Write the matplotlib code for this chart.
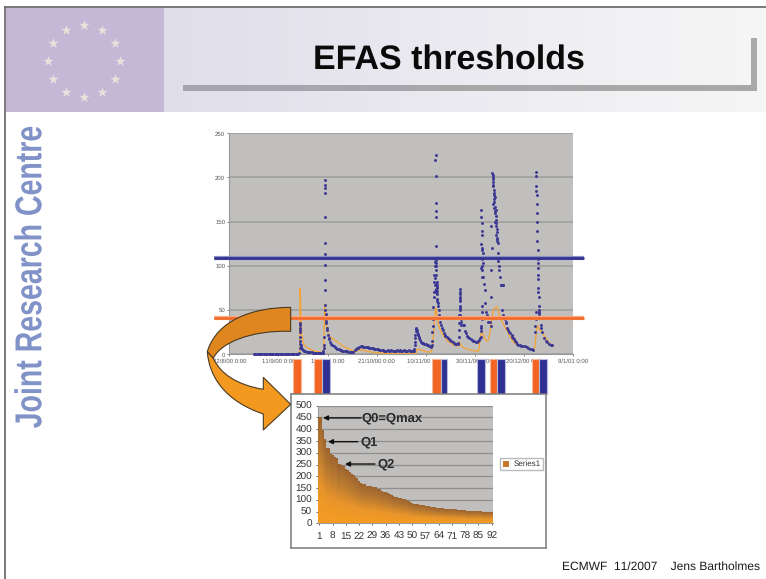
import numpy as np
import matplotlib
matplotlib.use("Agg")
import matplotlib.pyplot as plt
from matplotlib.patches import PathPatch, Rectangle
from matplotlib.path import Path
from matplotlib.colors import LinearSegmentedColormap
from matplotlib.transforms import blended_transform_factory, Affine2D
from matplotlib.patheffects import AbstractPathEffect

W, H = 766, 579

# ---------- main chart data (days since 22/8/00, discharge) ----------
date_ticks = [0, 20, 40, 60, 80, 100, 120, 140]
date_labels = ["22/8/00 0:00", "11/9/00 0:00", "1/10/00 0:00", "21/10/00 0:00",
               "10/11/00 0:00", "30/11/00 0:00", "20/12/00 0:00", "9/1/01 0:00"]
q_ticks = [0, 50, 100, 150, 200, 250]

base_days = [10, 10.5, 11, 11.5, 12, 12.5, 13, 13.5, 14, 14.5, 15, 15.5, 16, 16.5, 17, 17.5, 18, 18.5, 19, 19.5,
             20, 20.5, 21, 21.5, 22, 22.5, 23, 23.5, 24, 24.5, 25, 25.5, 26, 26.5, 27, 27.5, 28, 28.4]
base_vals = [0.6, 0.5, 0.6, 0.5, 0.5, 0.6, 0.5, 0.5, 0.6, 0.7, 0.5, 0.6, 0.5, 0.7, 0.6, 0.5, 0.6, 0.5, 0.7, 0.6,
             0.6, 0.7, 0.6, 0.6, 0.7, 0.8, 0.7, 0.6, 0.7, 0.8, 0.7, 0.8, 0.7, 0.8, 0.9, 0.8, 0.9, 1.0]

e1_days = [28.7, 28.8, 28.8, 28.8, 28.9, 28.9, 28.9, 29.0, 29.0, 29.1, 29.2, 29.5, 30, 30.5, 31, 31.5, 32, 32.5, 33, 33.5,
           34, 34.5, 35, 35.5, 36, 36.5, 37, 37.5, 38, 38.2, 38.3, 38.4, 38.5]
e1_vals = [7, 35, 33, 30, 28, 25, 20, 15, 12, 10, 8, 6, 5, 4, 3.5, 3, 2.8, 2.6, 2.4, 2.2,
           2, 1.9, 1.8, 1.7, 1.6, 1.6, 1.5, 1.5, 1.5, 2, 4, 7, 10]

e2_days = [38.7, 38.8, 38.8, 38.8, 38.8, 38.9, 38.9, 38.9, 38.8, 38.9, 38.9, 38.9, 39.1, 39.2, 39.3, 39.4, 39.5, 39.7, 39.9,
           40.2, 40.5, 40.8, 41.2, 41.6, 42, 42.5, 43, 43.5, 44, 44.5, 45, 45.5, 46, 46.5, 47, 47.5, 48, 48.5, 49, 49.5, 50, 50.5]
e2_vals = [20, 197, 192, 188, 183, 155, 126, 114, 101, 84, 73, 56, 50, 46, 43, 38, 35, 30, 27,
           22, 19, 17, 14, 12, 10, 9, 8, 7, 6, 5.5, 5, 4.5, 4.2, 4, 3.8, 3.5, 3.3, 3.1, 3, 3, 3, 3]

mid_days = [51, 51.5, 52, 52.5, 53, 53.5, 54, 54.5, 55, 55.5, 56, 56.5, 57, 57.5, 58, 58.5, 59, 59.5, 60, 60.5, 61, 61.5,
            62, 62.5, 63, 63.5, 64, 64.5, 65, 65.5, 66, 66.5, 67, 67.5, 68, 68.5, 69, 69.5, 70, 70.5, 71, 71.5, 72, 72.5, 73, 73.5, 74, 74.5, 75]
mid_vals = [5, 6, 7, 7.5, 8, 9, 9, 8.8, 8.8, 8.5, 8, 8, 7.5, 7.5, 7, 6.8, 6.5, 6, 5.8, 5.5, 5, 5, 4.8,
            4.5, 4, 4, 3.8, 4.5, 4.2, 4, 4.5, 4.2, 4, 4, 4.2, 4.5, 4, 4.3, 4, 4.2, 4.5, 4, 4.2, 4, 4.3, 4, 3.8, 4, 4]

e3_days = [75.2, 75.4, 75.5, 75.6, 75.7, 75.8, 75.9, 76, 76.2, 76.4, 76.5, 76.7, 76.9, 77.1, 77.3, 77.6, 78, 78.5, 79, 79.5,
           80, 80.5, 81, 81.5, 82, 82.3, 82.5]
e3_vals = [4, 6, 10, 14, 18, 22, 26, 29, 30, 28, 25, 23, 22, 20, 18, 16, 14, 13, 13, 12, 12, 11, 10, 9, 8.5, 9, 11]

e4_days = [82.6, 82.7, 82.9, 83, 83.1, 83.2, 83.3, 83.4, 83.5, 83.6, 83.7, 83.8, 83.9, 84, 84, 84, 84.1, 84, 83.9, 84,
           84.1, 84.2, 84.3, 84.1, 84.2, 84.4, 84.5, 84.6, 84.7, 84.8, 84.9, 85, 85.3, 85.5, 85.7, 86, 86.3, 86.6, 87, 87.3,
           87.7, 88, 88.5, 89, 89.5, 90, 90.5, 91, 91.5, 92, 92.5, 93, 93.2, 83.6, 83.8, 84.2, 84.4, 84.6, 83.7, 84.0, 84.3, 84.7]
e4_vals = [15, 25, 32, 40, 54, 65, 70, 82, 90, 100, 104, 108, 110, 123, 155, 162, 171, 202, 220, 225,
           107, 103, 100, 90, 80, 78, 75, 72, 68, 62, 58, 55, 50, 45, 42, 37, 33, 30, 27, 24,
           22, 21, 20, 18, 17, 16, 15, 14, 13, 12, 12, 11.5, 13, 78, 86, 95, 82, 76, 72, 74, 70, 60]

e5_days = [93.4, 93.5, 93.6, 93.7, 93.8, 93.9, 93.9, 93.9, 93.9, 94, 94, 94, 94.1, 94.1, 94.2, 94.3, 94.5, 95, 95.4,
           96, 96.3, 96.8, 97.3, 97.8, 98.3, 98.8, 99.3, 99.8, 100.3, 100.8, 101.3, 101.8, 102.2, 102.4, 102.5, 102.6]
e5_vals = [20, 28, 35, 45, 52, 60, 65, 70, 74, 68, 62, 55, 50, 45, 40, 37, 33, 33, 33,
           26, 24, 21, 20, 18, 17, 16, 15, 14.5, 14, 14, 15, 16, 18, 20, 26, 30]

e6_days = [102.7, 102.8, 102.8, 102.9, 102.7, 102.7, 103.0, 103.1, 102.7, 103.0, 103.4, 102.7, 103.1, 103.1, 102.7, 103.4, 103.7, 104.1,
           104.2, 104.6, 105.0, 105.4, 106.3, 106.7, 106.6, 106.6, 106.8, 107.1, 102.8, 102.9, 103.2, 102.8, 103.0]
e6_vals = [32, 40, 48, 55, 163, 155, 148, 140, 125, 120, 115, 110, 108, 100, 98, 87, 80, 73,
           58, 48, 45, 37, 36, 32, 145, 95, 65, 120, 135, 118, 103, 88, 95]

e7_days = [107.2, 107.4, 107.5, 107.5, 107.5, 107.8, 107.6, 107.9, 108.1, 108.3, 108.5, 108.7, 108.9, 109.0, 109.3, 109.5, 109.7,
           110.0, 110.3, 110.5, 110.7, 111.0, 111.3, 111.6, 111.2, 111.5, 112.2, 112.9, 113.2, 113.9, 115, 115.6, 116.3, 117,
           117.7, 119.8, 121.2, 122.5, 123.9,
           107.3, 107.6, 107.7, 107.9, 108.0, 108.2, 108.4, 108.6, 108.8, 108.9, 109.1, 109.2, 107.9, 108.2, 108.5, 108.7, 109.4, 109.6, 109.9,
           112.6, 113.5, 114.5, 115.3, 116, 116.7, 118.5, 119, 120.5, 121.8, 123.2]
e7_vals = [205, 200, 198, 195, 190, 180, 170, 165, 160, 150, 145, 135, 128, 130, 115, 105, 110,
           95, 88, 78, 78, 78, 78, 78, 50, 45, 40, 35, 30, 25, 22, 18, 15, 12,
           10, 9, 8, 6, 5,
           203, 192, 186, 176, 172, 167, 162, 157, 152, 142, 138, 132, 183, 178, 163, 148, 126, 108, 100,
           37, 27, 24, 20, 17, 14, 10, 9, 9, 7, 6]

e8_days = [124.6, 124.7, 124.8, 124.9, 125, 125, 125.1, 125.1, 125.2, 125.2, 125.3, 125.3, 125.4, 125.5, 125.6, 125.6, 125.7,
           125.7, 125.8, 125.8, 125.9, 125.9, 126, 126, 126.1, 126.2, 126.3, 126.8, 127.1, 127.4, 128.2, 128.9, 129.6, 130.2, 130.9, 131.6]
e8_vals = [25, 32, 40, 48, 206, 202, 190, 185, 180, 170, 160, 150, 140, 128, 118, 108, 103,
           98, 90, 85, 75, 70, 65, 55, 50, 46, 48, 33, 30, 25, 18, 15, 14, 12, 11, 10]

sim_days = [28.5, 28.7, 28.8, 29, 29.2, 29.4, 29.6, 30, 30.5, 31, 32, 33, 34, 35, 36, 37, 38, 38.4, 38.6, 38.8, 39.1, 39.4, 39.8,
            40.5, 41, 42, 43, 44, 45, 46, 47, 48, 49, 50, 51, 52, 52.5, 53, 54, 56, 58, 60, 62, 64, 66, 70, 75, 76, 76.5, 78, 80, 82,
            82.5, 83, 83.5, 84, 84.2, 84.8, 85.3, 86, 87, 88, 89, 90, 91, 92, 93, 93.5, 93.8, 94, 95, 96, 97, 98, 99, 100, 101, 101.5,
            101.8, 102, 102.5, 102.9, 103.5, 104, 104.5, 105, 105.5, 106, 106.5, 107, 107.5, 108.5, 109, 109.5, 110, 111, 112, 113, 114,
            115, 116, 117, 118, 119, 120, 121, 122, 123, 124, 124.5, 124.8, 125.2, 125.5, 126, 127, 128, 129, 130, 131, 132]
sim_vals = [0.5, 0.5, 75, 65, 40, 30, 22, 14, 11, 9, 7, 5.5, 4.5, 3.5, 3, 2.5, 2.2, 3, 20, 56, 45, 35, 28,
            22, 20, 18, 16, 14, 12, 10, 8, 7, 5.5, 4.5, 3.5, 3.5, 5, 5, 5, 3.5, 2.5, 2, 1.5, 1, 0.8, 0.5, 0.5, 1, 6, 5, 3, 2.5,
            5, 15, 35, 50, 52, 40, 32, 27, 22, 18, 15, 13, 11, 10, 9, 10, 14, 12, 8, 7, 6, 5, 4.5, 4, 3.5, 3.5,
            8, 15, 22, 26, 22, 18, 16, 15, 16, 22, 32, 42, 50, 53, 54, 50, 45, 38, 32, 27, 22,
            17, 13, 11, 10, 9.5, 9, 8, 7, 6, 5.5, 8, 18, 28, 32, 30, 26, 22, 18, 14, 11, 9]

threshold_high = 108.6
threshold_low = 41.4

orange_start = [25.8, 34.3, 82.6, 106.1, 123.2]
orange_end = [29.3, 37.9, 86.2, 109.0, 126.2]
blue_start = [37.9, 86.2, 100.8, 109.0, 126.2]
blue_end = [41.1, 88.7, 104.2, 112.3, 129.4]

# ---------- inset bar chart ----------
rank_vals = [450, 447, 395, 355, 318, 315, 290, 286, 280, 275, 250, 248, 245, 240, 228, 222, 215, 208, 204, 192,
             188, 175, 170, 165, 163, 157, 155, 154, 153, 151, 149, 143, 141, 135, 130, 129, 126, 123, 118, 112,
             110, 108, 106, 104, 102, 98, 94, 92, 88, 84, 79, 78, 77, 76, 75, 74, 72, 70, 69, 68,
             66, 65, 63, 62, 61, 60, 59, 59, 58, 58, 57, 57, 56, 55, 55, 54, 53, 52, 51, 51,
             50, 49, 49, 48, 48, 47, 46, 46, 45, 45, 44, 43]
rank_ticks = [1, 8, 15, 22, 29, 36, 43, 50, 57, 64, 71, 78, 85, 92]
rank_yticks = list(range(0, 501, 50))
q_labels = ["Q0=Qmax", "Q1", "Q2"]
q_levels = [448, 347, 252]
q_tips = [3.0, 5.6, 14.6]
q_tails = [23.0, 21.3, 30.4]
q_text_x = [23.4, 23.0, 31.8]

plt.rcParams['font.family'] = ['Liberation Sans', 'DejaVu Sans']
plt.rcParams['text.hinting'] = 'no_hinting'
plt.rcParams['text.hinting_factor'] = 1
fig = plt.figure(figsize=(W / 100, H / 100), dpi=100, facecolor='white')


def px_axes(x0, y0, x1, y1, z):
    return fig.add_axes([x0 / W, 1 - y1 / H, (x1 - x0) / W, (y1 - y0) / H], zorder=z)


class Squeeze(AbstractPathEffect):
    """Condense the real text along the vertical about a centre in display space."""

    def __init__(self, sy, cy):
        super().__init__()
        self.sy, self.cy = sy, cy

    def draw_path(self, renderer, gc, tpath, affine, rgbFace=None):
        a = affine + Affine2D().translate(0, -self.cy).scale(1, self.sy).translate(0, self.cy)
        renderer.draw_path(gc, tpath, a, rgbFace)


# ---------- slide background ----------
bg = fig.add_axes([0, 0, 1, 1], zorder=0)
bg.set_xlim(0, W)
bg.set_ylim(H, 0)
bg.axis('off')
grad = np.linspace(0, 1, 256)[None, :]
cm = LinearSegmentedColormap.from_list('hdr', ['#dfdeea', '#ecebf1', '#f6f6f6'])
bg.imshow(grad, extent=[164, W, 112, 8], cmap=cm, aspect='auto', zorder=1)
bg.add_patch(Rectangle((6, 8), 158, 104, fc='#c5b8d7', ec='none', zorder=2))
star_angles = np.arange(12) * 30.0
bg.scatter(84 + 36 * np.cos(np.radians(star_angles)), 61 + 36 * np.sin(np.radians(star_angles)),
           marker='*', s=60, color='#e6e3da', linewidths=0, zorder=3)
cm2 = LinearSegmentedColormap.from_list('bar', ['#a5a3b2', '#a9a8a8', '#a9a9a9'])
bg.imshow(grad, extent=[183, 757, 91, 85], cmap=cm2, aspect='auto', zorder=3)
bg.add_patch(Rectangle((751, 38), 6, 53, fc='#a9a9a9', ec='none', zorder=3))
bg.set_xlim(0, W)
bg.set_ylim(H, 0)
bg.plot([4.5, 4.5], [H, 6], color='#6e6e6e', lw=1.3, zorder=4, solid_capstyle='butt')
bg.plot([4, W], [6.5, 6.5], color='#6e6e6e', lw=1.3, zorder=4, solid_capstyle='butt')
bg.text(449, 60, "EFAS thresholds", ha='center', va='center', fontsize=24.3, fontweight='bold', color='#0a0a0a', zorder=5)
jrc = bg.text(31.5, 275, "Joint Research Centre", rotation=90, ha='center', va='center', fontsize=27,
              fontweight='bold', color='#8092c8', zorder=5)
jrc.set_path_effects([Squeeze(0.76, H - 275)])
bg.text(760, 567, "ECMWF  11/2007    Jens Bartholmes", ha='right', va='center', fontsize=8.9, color='#1a1a1a', zorder=5)

# ---------- main scatter chart ----------
ax = px_axes(229.3, 133.3, 573, 354.3, 1)
ax.set_facecolor('#c0bfbe')
ax.set_xlim(0, 140)
ax.set_ylim(0, 250)
ax.set_yticks(q_ticks)
ax.set_xticks(date_ticks)
ax.set_xticklabels(date_labels)
ax.tick_params(labelsize=4.2, colors='#555555', length=1.5, width=0.5, pad=1.5)
ax.grid(axis='y', color='#9c9c9a', lw=1.1)
ax.set_axisbelow(True)
for s in ['top', 'right']:
    ax.spines[s].set_visible(False)
for s in ['left', 'bottom']:
    ax.spines[s].set_color('#9a9a9a')
    ax.spines[s].set_linewidth(0.8)

ax.plot(sim_days, sim_vals, color='#f7a331', lw=0.9, zorder=3)
for d, v in [(base_days, base_vals), (e1_days, e1_vals), (e2_days, e2_vals), (mid_days, mid_vals),
             (e3_days, e3_vals), (e4_days, e4_vals), (e5_days, e5_vals), (e6_days, e6_vals),
             (e7_days, e7_vals), (e8_days, e8_vals)]:
    ax.scatter(d, v, s=4.5, color='#3b3893', linewidths=0, zorder=4, clip_on=False)

tr = blended_transform_factory(ax.transAxes, ax.transData)
for y, c, halo in [(threshold_high, '#2e3190', '#8d8ec2'), (threshold_low, '#f26a2a', '#f9a880')]:
    ax.plot([-0.044, 1.032], [y, y], transform=tr, color=halo, lw=3.0, clip_on=False, zorder=5, solid_capstyle='butt')
    ax.plot([-0.044, 1.032], [y, y], transform=tr, color=c, lw=1.9, clip_on=False, zorder=6, solid_capstyle='butt')

strip_bottom, strip_height = -45, 39.7
ax.bar(orange_start, strip_height, width=np.subtract(orange_end, orange_start), bottom=strip_bottom, align='edge',
       color='#f26522', edgecolor='#f9b79a', lw=0.8, clip_on=False, zorder=7)
ax.bar(blue_start, strip_height, width=np.subtract(blue_end, blue_start), bottom=strip_bottom, align='edge',
       color='#2e3192', edgecolor='#b9b9dd', lw=0.8, clip_on=False, zorder=7)

# ---------- inset panel ----------
panel = px_axes(290.5, 393.5, 546, 548, 2)
panel.set_xticks([])
panel.set_yticks([])
panel.set_facecolor('white')
for s in panel.spines.values():
    s.set_color('#7a7a7a')
    s.set_linewidth(1.1)

ins = px_axes(318.3, 405.7, 492.7, 523.3, 3)
ins.set_facecolor('#c0bfbe')
cm3 = LinearSegmentedColormap.from_list('col', ['#f59c22', '#e9952a', '#bb7b30', '#9c6430'])
col = np.linspace(1, 0, 64)[:, None]
for i, v in enumerate(rank_vals, start=1):
    ins.imshow(col, extent=[i - 0.41, i + 0.41, 0, v], cmap=cm3, aspect='auto', zorder=3, vmin=0, vmax=1)
ins.set_xlim(0.5, 92.5)
ins.set_ylim(0, 500)
ins.set_yticks(rank_yticks)
ins.set_xticks(rank_ticks)
ins.tick_params(labelsize=7, colors='#333333', length=1.5, width=0.5)
ins.tick_params(axis='x', pad=4.5)
ins.tick_params(axis='y', pad=3)
ins.grid(axis='y', color='#8e8e8e', lw=0.9)
ins.set_axisbelow(True)
for s in ['top', 'right']:
    ins.spines[s].set_visible(False)
for s in ['left', 'bottom']:
    ins.spines[s].set_color('#9a9a9a')
for label, y, tip, tail, tx in zip(q_labels, q_levels, q_tips, q_tails, q_text_x):
    ins.annotate("", xy=(tip, y), xytext=(tail, y),
                 arrowprops=dict(arrowstyle='-|>', color='#111111', lw=1.0, mutation_scale=7, shrinkA=0, shrinkB=0), zorder=6)
    ins.text(tx, y, label, fontsize=9.2, fontweight='bold', va='center', ha='left', color='#2a2a2a', zorder=7)

# legend
leg = fig.legend(handles=[Rectangle((0, 0), 1, 1, fc='#c77a28', ec='none')], labels=["Series1"],
                 loc='center', bbox_to_anchor=(521.7 / W, 1 - 464.3 / H), fontsize=5.8, frameon=True,
                 fancybox=False, edgecolor='#aaaaaa', handlelength=0.8, handleheight=0.8, handletextpad=0.5,
                 borderpad=0.3, borderaxespad=0, labelspacing=0, labelcolor='#333333')
leg.set_zorder(4)

# ---------- curved arrow ----------
fg = fig.add_axes([0, 0, 1, 1], zorder=6)
fg.set_xlim(0, W)
fg.set_ylim(H, 0)
fg.axis('off')
fg.patch.set_alpha(0)


def zp(x, y):
    return (200 + x / 3, 290 + y / 3)


light = [zp(22, 185), zp(28, 265), zp(80, 335), zp(190, 372), zp(190, 420), zp(272, 343), zp(190, 262), zp(190, 298),
         zp(110, 285), zp(60, 250), zp(40, 205), zp(22, 185)]
light_codes = [Path.MOVETO, Path.CURVE4, Path.CURVE4, Path.CURVE4, Path.LINETO, Path.LINETO, Path.LINETO, Path.LINETO,
               Path.CURVE4, Path.CURVE4, Path.CURVE4, Path.LINETO]
fg.add_patch(PathPatch(Path(light, light_codes), fc='#f3991f', ec='#4a3a20', lw=0.8, zorder=2))
dark = [zp(272, 52), zp(160, 52), zp(50, 90), zp(22, 185), zp(40, 205), zp(60, 160), zp(150, 120), zp(272, 124), zp(272, 52)]
dark_codes = [Path.MOVETO, Path.CURVE4, Path.CURVE4, Path.CURVE4, Path.LINETO, Path.CURVE4, Path.CURVE4, Path.CURVE4, Path.CLOSEPOLY]
fg.add_patch(PathPatch(Path(dark, dark_codes), fc='#e0861f', ec='#4a3a20', lw=0.8, zorder=3))

fig.savefig('out.png', dpi=100, facecolor='white')
